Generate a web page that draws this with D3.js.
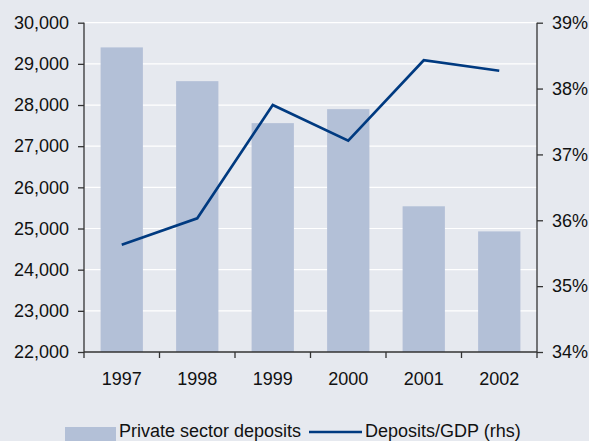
<!DOCTYPE html>
<html>
<head>
<meta charset="utf-8">
<script src="https://cdn.jsdelivr.net/npm/d3@7"></script>
<style>
  html, body { margin: 0; padding: 0; background: #E6E9EF; }
  svg { display: block; }
  text { font-family: "Liberation Sans", Arial, sans-serif; fill: #111; }
</style>
</head>
<body>
<svg id="chart" width="589" height="441"></svg>
<script>
// Private sector deposits (left axis) and deposits as share of GDP (right axis)
const years = ["1997", "1998", "1999", "2000", "2001", "2002"];
const deposits = [29400, 28580, 27560, 27900, 25540, 24930];
const depositsToGdp = [35.63, 36.03, 37.75, 37.21, 38.43, 38.27];
const leftTicks = [22000, 23000, 24000, 25000, 26000, 27000, 28000, 29000, 30000];
const rightTicks = [34, 35, 36, 37, 38, 39];
const legendLabels = ["Private sector deposits", "Deposits/GDP (rhs)"];

const svg = d3.select("#chart");
const W = 589, H = 441;
const m = { left: 84, right: 52, top: 22.7, bottom: 89 };
const x0 = m.left, x1 = W - m.right, y0 = H - m.bottom, y1 = m.top;

svg.append("rect").attr("width", W).attr("height", H).attr("fill", "#E6E9EF");

const x = d3.scaleBand().domain(years).range([x0, x1]).paddingInner(0.44).paddingOuter(0.22);
const xb = d3.scaleBand().domain(years).range([x0, x1]);
const yL = d3.scaleLinear().domain([22000, 30000]).range([y0, y1]);
const yR = d3.scaleLinear().domain([34, 39]).range([y0, y1]);

// horizontal grid
svg.append("g").selectAll("line").data(leftTicks.slice(1)).join("line")
  .attr("x1", x0 + 1).attr("x2", x1)
  .attr("y1", d => yL(d)).attr("y2", d => yL(d))
  .attr("stroke", "#FFFFFF").attr("stroke-width", 1.2);

// bars
svg.append("g").selectAll("rect").data(years).join("rect")
  .attr("x", d => x(d))
  .attr("width", x.bandwidth())
  .attr("y", (d, i) => yL(deposits[i]))
  .attr("height", (d, i) => y0 - yL(deposits[i]))
  .attr("fill", "#B3C0D7");

// ratio line
const line = d3.line()
  .x((d, i) => xb(years[i]) + xb.bandwidth() / 2)
  .y(d => yR(d));
svg.append("path").datum(depositsToGdp)
  .attr("d", line)
  .attr("fill", "none")
  .attr("stroke", "#003A80")
  .attr("stroke-width", 2.6);

// axes
const fmt = d3.format(",");
const left = svg.append("g").attr("transform", `translate(${x0},0)`)
  .call(d3.axisLeft(yL).tickValues(leftTicks).tickFormat(fmt).tickSize(6).tickPadding(9));
const right = svg.append("g").attr("transform", `translate(${x1},0)`)
  .call(d3.axisRight(yR).tickValues(rightTicks).tickFormat(d => d + "%").tickSize(6).tickPadding(9));
const bottom = svg.append("g").attr("transform", `translate(0,${y0})`)
  .call(d3.axisBottom(xb).tickSize(0).tickPadding(20));

// x tick marks on category boundaries
svg.append("g").selectAll("line").data(years.concat(["end"])).join("line")
  .attr("x1", (d, i) => x0 + i * xb.step()).attr("x2", (d, i) => x0 + i * xb.step())
  .attr("y1", y0).attr("y2", y0 + 6)
  .attr("stroke", "#333").attr("stroke-width", 1.3);

[left, right, bottom].forEach(g => {
  g.select(".domain").attr("stroke", "#333").attr("stroke-width", 1.3);
  g.selectAll(".tick line").attr("stroke", "#333").attr("stroke-width", 1.3);
  g.selectAll("text").attr("font-size", 18).attr("fill", "#111")
    .attr("font-family", "'Liberation Sans', Arial, sans-serif");
});
left.select(".domain").attr("d", `M0,${y0}V${y1}`);
right.select(".domain").attr("d", `M0,${y0}V${y1}`);
bottom.select(".domain").attr("d", `M${x0},0H${x1}`);

// legend
const lg = svg.append("g");
lg.append("rect").attr("x", 65).attr("y", 427).attr("width", 51).attr("height", 14).attr("fill", "#B3C0D7");
lg.append("text").attr("x", 119).attr("y", 437).attr("font-size", 18).text(legendLabels[0]);
lg.append("line").attr("x1", 309).attr("x2", 362).attr("y1", 432).attr("y2", 432)
  .attr("stroke", "#003A80").attr("stroke-width", 2.6);
lg.append("text").attr("x", 365).attr("y", 437).attr("font-size", 18).text(legendLabels[1]);
</script>
</body>
</html>
